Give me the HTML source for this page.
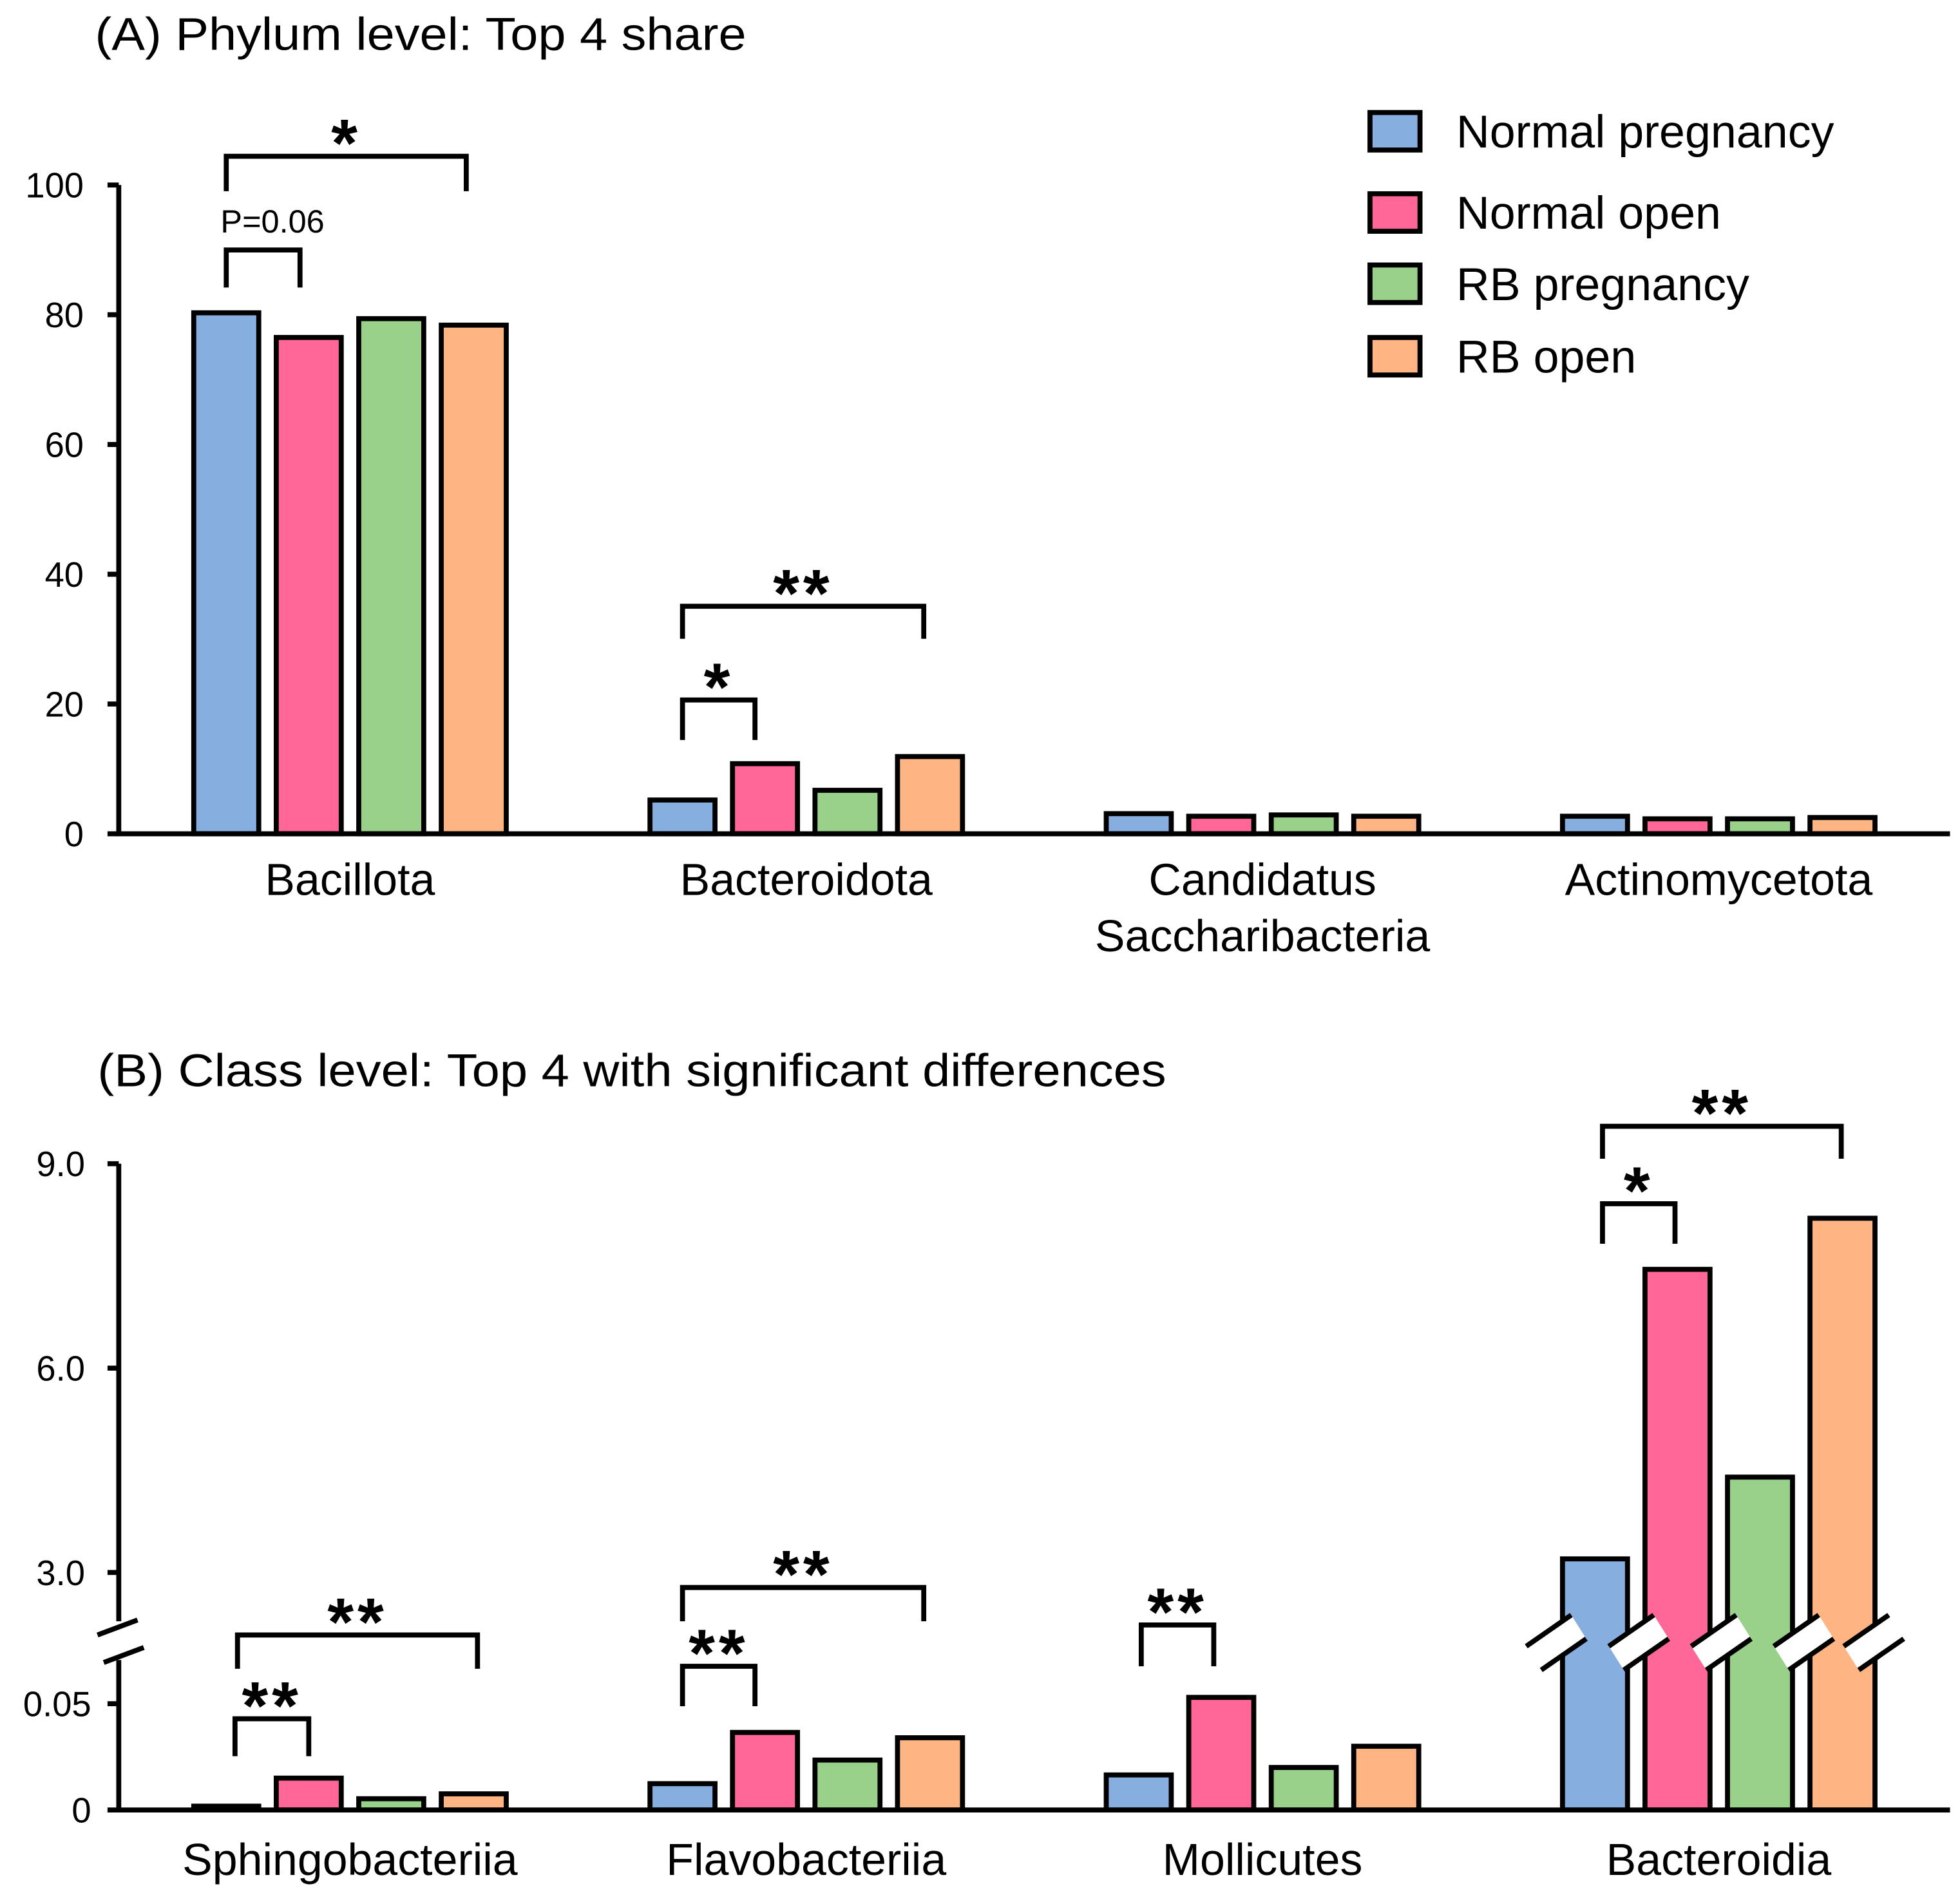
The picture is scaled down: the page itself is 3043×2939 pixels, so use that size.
<!DOCTYPE html>
<html><head><meta charset="utf-8"><style>
html,body{margin:0;padding:0;background:#fff}
svg{display:block}
text{font-family:"Liberation Sans",sans-serif;fill:#000}
</style></head><body>
<svg id="c" width="3043" height="2939" viewBox="0 0 1568 1514.4" xmlns="http://www.w3.org/2000/svg">
<text x="76" y="40" font-size="37" textLength="521" lengthAdjust="spacingAndGlyphs">(A) Phylum level: Top 4 share</text>
<text x="78" y="869" font-size="37" textLength="855" lengthAdjust="spacingAndGlyphs">(B) Class level: Top 4 with significant differences</text>
<g id="legend"></g>
<g id="ga"></g>
<g id="gb"></g>
<g id="gbrk"></g>
</svg>
<script>
const seriesNames=["Normal pregnancy","Normal open","RB pregnancy","RB open"];
const colors=["#86aede","#ff6799","#99d18b","#ffb583"];
const catsA=["Bacillota","Bacteroidota","Candidatus|Saccharibacteria","Actinomycetota"];
const aNP=[80.3,5.2,3.1,2.7];
const aNO=[76.5,10.8,2.7,2.3];
const aRP=[79.4,6.7,2.9,2.3];
const aRO=[78.4,11.9,2.7,2.5];
const ticksA=[0,20,40,60,80,100];
const catsB=["Sphingobacteriia","Flavobacteriia","Mollicutes","Bacteroidia"];
const bNP=[0.0018,0.0124,0.0165,3.2];
const bNO=[0.015,0.0365,0.053,7.45];
const bRP=[0.0053,0.0235,0.02,4.4];
const bRO=[0.0076,0.034,0.03,8.2];
const ticksBLow=[0,0.05];
const ticksBHigh=["3.0","6.0","9.0"];
const NS="http://www.w3.org/2000/svg";
function mk(p,tag,at){const e=document.createElementNS(NS,tag);for(const k in at)e.setAttribute(k,at[k]);p.appendChild(e);return e;}
const AX=95,X1=1560,BW=52,STEP=66,GSTEP=365,G0=155;
function barX(g,s){return G0+g*GSTEP+s*STEP;}
const ga=document.getElementById('ga');
const yA=v=>667-v*5.19;
const serA=[aNP,aNO,aRP,aRO];
serA.forEach((arr,s)=>arr.forEach((v,g)=>{
 const r=mk(ga,'rect',{x:barX(g,s),y:yA(v),width:BW,height:667-yA(v),fill:colors[s],stroke:'#000','stroke-width':4});
 
 
}));
let l=mk(ga,'path',{d:`M${AX},${yA(100)}V667H${X1}`,fill:'none',stroke:'#000','stroke-width':4});

ticksA.forEach(t=>{mk(ga,'line',{x1:AX-9,x2:AX,y1:yA(t),y2:yA(t),stroke:'#000','stroke-width':4});
 const tx=mk(ga,'text',{x:67,y:yA(t)+10,'font-size':28,'text-anchor':'end'});tx.textContent=t;
 });
catsA.forEach((c,g)=>{const cx=barX(g,0)+(3*STEP+BW)/2;c.split('|').forEach((p,i)=>{
 const t=mk(ga,'text',{x:cx,y:716+i*45,'font-size':36,'text-anchor':'middle'});t.textContent=p;
 });});
const gb=document.getElementById('gb');
const gbrk=document.getElementById('gbrk');
const BASE=1448;
const yLow=v=>BASE-v*1700;
const yHigh=v=>1258-(v-3)*54.5;
const yB=v=>v<1?yLow(v):yHigh(v);
const serB=[bNP,bNO,bRP,bRO];
const breakEdges=[];
serB.forEach((arr,s)=>arr.forEach((v,g)=>{
 const r=mk(gb,'rect',{x:barX(g,s),y:yB(v),width:BW,height:BASE-yB(v),fill:colors[s],stroke:'#000','stroke-width':4});
 
 
 if(v>=1){breakEdges.push(barX(g,s)-2);if(s===3)breakEdges.push(barX(g,s)+BW+2);}
}));
breakEdges.forEach(c=>{
 mk(gbrk,'polygon',{points:`${c-27},1317 ${c+9},1292 ${c+21},1311 ${c-15},1336`,fill:'#fff'});
 mk(gbrk,'line',{x1:c-27,y1:1317,x2:c+9,y2:1292,stroke:'#000','stroke-width':4});
 mk(gbrk,'line',{x1:c-15,y1:1336,x2:c+21,y2:1311,stroke:'#000','stroke-width':4});
});
l=mk(gb,'path',{d:`M${AX},931V1297M${AX},1328V${BASE}H${X1}`,fill:'none',stroke:'#000','stroke-width':4});

mk(gb,'line',{x1:78,y1:1308,x2:110,y2:1296,stroke:'#000','stroke-width':4});
mk(gb,'line',{x1:83,y1:1330,x2:115,y2:1318,stroke:'#000','stroke-width':4});
ticksBHigh.forEach(t=>{const y=yHigh(+t);mk(gb,'line',{x1:AX-9,x2:AX,y1:y,y2:y,stroke:'#000','stroke-width':4});
 const tx=mk(gb,'text',{x:68,y:y+10,'font-size':28,'text-anchor':'end'});tx.textContent=t;
 });
ticksBLow.forEach(t=>{const y=yLow(t);mk(gb,'line',{x1:AX-9,x2:AX,y1:y,y2:y,stroke:'#000','stroke-width':4});
 const tx=mk(gb,'text',{x:73,y:y+10,'font-size':28,'text-anchor':'end'});tx.textContent=t;
 });
catsB.forEach((c,g)=>{const cx=barX(g,0)+(3*STEP+BW)/2;
 const t=mk(gb,'text',{x:cx,y:1500,'font-size':36,'text-anchor':'middle'});t.textContent=c;
 });
const brackets=[[181,373,125,153,'*'],[181,240,200,230,'P=0.06'],[546,739,485,511,'**'],[546,604,560,592,'*'],
[190,382,1308,1335,'**'],[188,247,1375,1405,'**'],[546,739,1270,1297,'**'],[546,604,1333,1365,'**'],[913,971,1300,1333,'**'],
[1282,1473,901,927,'**'],[1282,1340,963,995,'*']];
const svg=document.getElementById('c');
brackets.forEach(b=>{const g=mk(svg,'g',{});
 
 mk(g,'path',{d:`M${b[0]},${b[3]}V${b[2]}H${b[1]}V${b[3]}`,fill:'none',stroke:'#000','stroke-width':4});
 const cx=(b[0]+b[1])/2;
 if(b[4].startsWith('P')){const t=mk(g,'text',{x:218,y:186,'font-size':26,'text-anchor':'middle'});t.textContent=b[4];}
 else{const t=mk(g,'text',{x:cx,y:b[2]+8,'font-size':54,'font-weight':'bold','text-anchor':'middle','letter-spacing':'3'});t.textContent=b[4];}
});
const lg=document.getElementById('legend');
const ly=[105,170,227,285];
seriesNames.forEach((n,i)=>{
 const r=mk(lg,'rect',{x:1096,y:ly[i]-15,width:40,height:30,fill:colors[i],stroke:'#000','stroke-width':4});
 
 const t=mk(lg,'text',{x:1165,y:ly[i]+13,'font-size':37});t.textContent=n;
 
});
</script>
</body></html>
